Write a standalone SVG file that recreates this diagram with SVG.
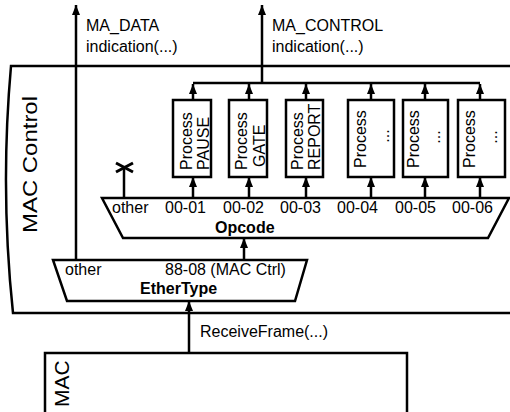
<svg xmlns="http://www.w3.org/2000/svg" width="510" height="412" viewBox="0 0 510 412">
<style>
.ln{fill:none;stroke:#000;stroke-width:2.5}
.bx{fill:#fff;stroke:#000;stroke-width:2.5}
.t{font-family:"Liberation Sans",Arial,sans-serif;font-size:16px;fill:#000}
.b{font-weight:bold}
.big{font-size:21px}
.arr{fill:none;stroke:#000;stroke-width:2.5;marker-end:url(#ah)}
</style>
<defs>
<marker id="ah" viewBox="0 0 10 8" refX="10" refY="4" markerWidth="11" markerHeight="8" markerUnits="userSpaceOnUse" orient="auto">
<path d="M0,0 L10,4 L0,8 z" fill="#000"/>
</marker>
</defs>
<rect width="510" height="412" fill="#fff"/>

<g id="mac-control">
<path class="ln" d="M510,66 L11,66 Q0,190 13,313 L510,313"/>
<text class="t big" transform="translate(37,233) rotate(-90)" textLength="137" lengthAdjust="spacingAndGlyphs">MAC Control</text>
</g>

<g id="mac">
<path class="ln" d="M45,412 L45,353 L407,353 L407,412"/>
<text class="t big" transform="translate(69,407) rotate(-90)">MAC</text>
</g>

<g id="ethertype">
<path class="bx" d="M53,260 L307,260 L295,301 L67,301 Z"/>
<text class="t" x="65" y="275">other</text>
<text class="t" x="165" y="275">88-08 (MAC Ctrl)</text>
<text class="t b" x="140" y="294">EtherType</text>
</g>

<g id="opcode">
<path class="bx" d="M102,198 L509,198 L488,238 L123,238 Z"/>
<text class="t" x="112" y="213">other</text>
<text class="t" x="165" y="213">00-01</text>
<text class="t" x="223" y="213">00-02</text>
<text class="t" x="280" y="213">00-03</text>
<text class="t" x="337" y="213">00-04</text>
<text class="t" x="395" y="213">00-05</text>
<text class="t" x="452" y="213">00-06</text>
<text class="t b" x="215" y="233">Opcode</text>
</g>

<g id="process-pause">
<rect class="bx" x="173" y="100" width="38" height="77"/>
<text class="t" transform="translate(192,170) rotate(-90)">Process</text>
<text class="t" transform="translate(209,170) rotate(-90)">PAUSE</text>
</g>
<g id="process-gate">
<rect class="bx" x="229" y="100" width="38" height="77"/>
<text class="t" transform="translate(247,170) rotate(-90)">Process</text>
<text class="t" transform="translate(265,167) rotate(-90)">GATE</text>
</g>
<g id="process-report">
<rect class="bx" x="286" y="100" width="37" height="77"/>
<text class="t" transform="translate(303,170) rotate(-90)">Process</text>
<text class="t" transform="translate(320,170) rotate(-90)">REPORT</text>
</g>
<g id="process-4">
<rect class="bx" x="348" y="100" width="46" height="77"/>
<text class="t" transform="translate(366,168) rotate(-90)">Process</text>
<text class="t" text-anchor="middle" transform="translate(389,136) rotate(-90)">...</text>
</g>
<g id="process-5">
<rect class="bx" x="403" y="100" width="45" height="77"/>
<text class="t" transform="translate(419,168) rotate(-90)">Process</text>
<text class="t" text-anchor="middle" transform="translate(440,137) rotate(-90)">...</text>
</g>
<g id="process-6">
<rect class="bx" x="458" y="100" width="47" height="77"/>
<text class="t" transform="translate(475,168) rotate(-90)">Process</text>
<text class="t" text-anchor="middle" transform="translate(497,137) rotate(-90)">...</text>
</g>

<g id="labels">
<text class="t" x="86" y="31">MA_DATA</text>
<text class="t" x="86" y="52">indication(...)</text>
<text class="t" x="272" y="31">MA_CONTROL</text>
<text class="t" x="272" y="52">indication(...)</text>
<text class="t" x="200" y="337">ReceiveFrame(...)</text>
</g>

<g id="connectors">
<path class="arr" d="M76,260 L76,5"/>
<path class="arr" d="M262,83 L262,5"/>
<path class="ln" d="M193,83 L480,83"/>
<path class="arr" d="M193,100 L193,84"/>
<path class="arr" d="M249,100 L249,84"/>
<path class="arr" d="M306,100 L306,84"/>
<path class="arr" d="M371,100 L371,84"/>
<path class="arr" d="M425,100 L425,84"/>
<path class="arr" d="M480,100 L480,84"/>
<path class="arr" d="M193,198 L193,177"/>
<path class="arr" d="M249,198 L249,177"/>
<path class="arr" d="M306,198 L306,177"/>
<path class="arr" d="M371,198 L371,177"/>
<path class="arr" d="M425,198 L425,177"/>
<path class="arr" d="M480,198 L480,177"/>
<path class="ln" d="M124,198 L124,167"/>
<path fill="none" stroke="#000" stroke-width="3" d="M116,163 L133,172 M116,172 L133,163"/>
<path class="arr" d="M244,260 L244,238"/>
<path class="arr" d="M189,353 L189,301"/>
</g>
</svg>
